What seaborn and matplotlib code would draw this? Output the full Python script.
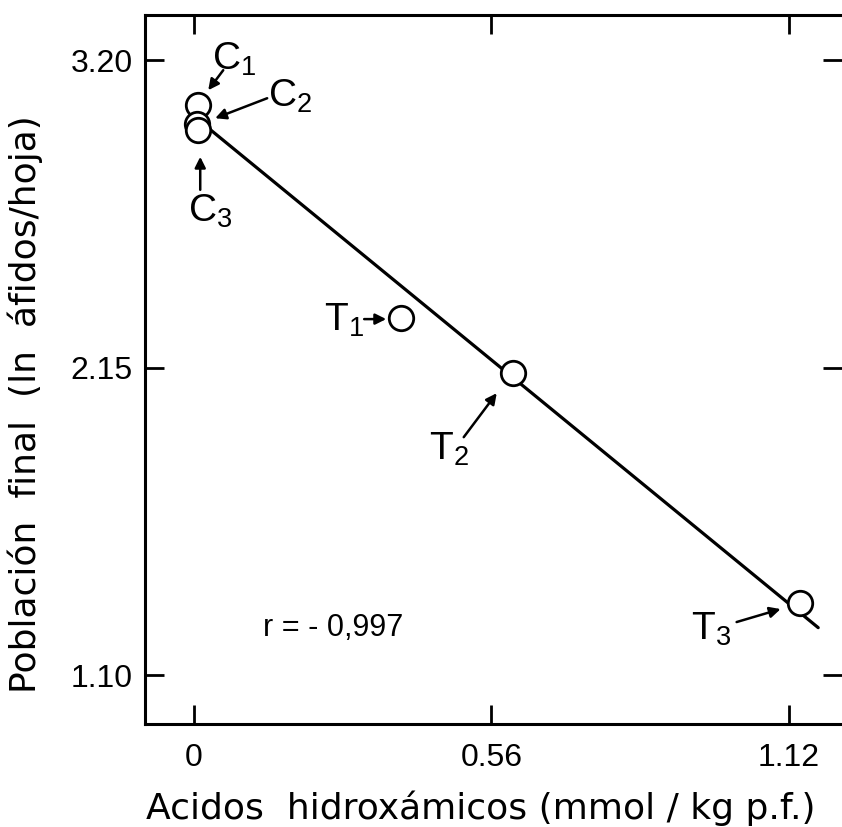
import matplotlib
matplotlib.use("Agg")
import matplotlib.pyplot as plt
from matplotlib.transforms import ScaledTranslation
import seaborn as sns
import pandas as pd

# ---- data ----
labels = ["C1", "C2", "C3", "T1", "T2", "T3"]
label_text = [r"$\mathregular{C_1}$", r"$\mathregular{C_2}$", r"$\mathregular{C_3}$",
              r"$\mathregular{T_1}$", r"$\mathregular{T_2}$", r"$\mathregular{T_3}$"]
hidroxamicos = [0.008, 0.006, 0.008, 0.39, 0.60, 1.14]
poblacion = [3.046, 2.981, 2.962, 2.319, 2.131, 1.346]
fit_x = [0.025, 1.175]
fit_y = [2.971, 1.262]
xticks = [0, 0.56, 1.12]
xticklabels = ["0", "0.56", "1.12"]
yticks = [1.10, 2.15, 3.20]
yticklabels = ["1.10", "2.15", "3.20"]
r_text = "r = - 0,997"
xlabel = "Acidos  hidroxámicos (mmol / kg p.f.)"
ylabel = "Población  final  (ln  áfidos/hoja)"

# annotation geometry (pixel offsets from point centre: tail, tip, text)
ann_tail = [(25, -35), (70, -26), (2, 60), (-37, 1), (-49, 64), (-63, 19)]
ann_tip = [(10, -15), (18, -6), (2, 27), (-15, 1), (-16, 20), (-19, 6)]
ann_txt = [(36, -46), (93, -28), (12, 82), (-57, 2), (-64, 76), (-89, 26)]

sns.set_theme(style="white")
plt.rcParams["font.family"] = ["Liberation Sans", "DejaVu Sans"]
plt.rcParams["mathtext.default"] = "regular"

W, H = 842, 827
fig = plt.figure(figsize=(W / 100, H / 100), dpi=100)
ax = fig.add_axes([145 / W, (H - 724) / H, (842 - 145) / W, (724 - 15) / H])

df = pd.DataFrame({"x": hidroxamicos, "y": poblacion, "lab": labels})
fit = pd.DataFrame({"x": fit_x, "y": fit_y})
sns.lineplot(data=fit, x="x", y="y", ax=ax, color="black", lw=2.3, zorder=2)
sns.scatterplot(data=df, x="x", y="y", ax=ax, s=310, facecolor="white",
                edgecolor="black", linewidth=2.0, zorder=3)

ax.set_xlim(-0.0922, 1.2198)
ax.set_ylim(0.933, 3.354)
ax.set_xticks(xticks)
ax.set_xticklabels(xticklabels)
ax.set_yticks(yticks)
ax.set_yticklabels(yticklabels)
ax.tick_params(axis="both", direction="in", length=14, width=2, color="black",
               labelsize=23, labelcolor="black")
ax.tick_params(axis="x", top=True, bottom=True, pad=14)
ax.tick_params(axis="y", left=True, right=True, pad=9)
for s in ["left", "top", "bottom"]:
    ax.spines[s].set_color("black")
    ax.spines[s].set_linewidth(2.2)
ax.spines["right"].set_visible(False)

ax.set_xlabel(xlabel, fontsize=26, color="black", family=["DejaVu Sans"])
ax.set_ylabel(ylabel, fontsize=26, color="black", family=["DejaVu Sans"])
ax.xaxis.set_label_coords((481 - 145) / 697, (724 - 808) / 709)
ax.xaxis.label.set_verticalalignment("center")
ax.yaxis.set_label_coords((25 - 145) / 697, (724 - 404) / 709)
ax.yaxis.label.set_verticalalignment("center")

def off(dx, dy):
    return ax.transData + ScaledTranslation(dx / 100, -dy / 100, fig.dpi_scale_trans)

for x, y, t, tail, tip, tx in zip(hidroxamicos, poblacion, label_text, ann_tail, ann_tip, ann_txt):
    ax.annotate("", xy=(x, y), xycoords=off(*tip), xytext=(x, y), textcoords=off(*tail),
                arrowprops=dict(arrowstyle="-|>", color="black", lw=1.8,
                                mutation_scale=16, shrinkA=0, shrinkB=0))
    ax.text(x, y, t, transform=off(*tx), fontsize=28, ha="center", va="center", color="black")

ax.text((333 - 145) / 697, (724 - 628) / 709, r_text, transform=ax.transAxes, fontsize=22,
        ha="center", va="center", color="black")

fig.savefig("out.png", dpi=100)
